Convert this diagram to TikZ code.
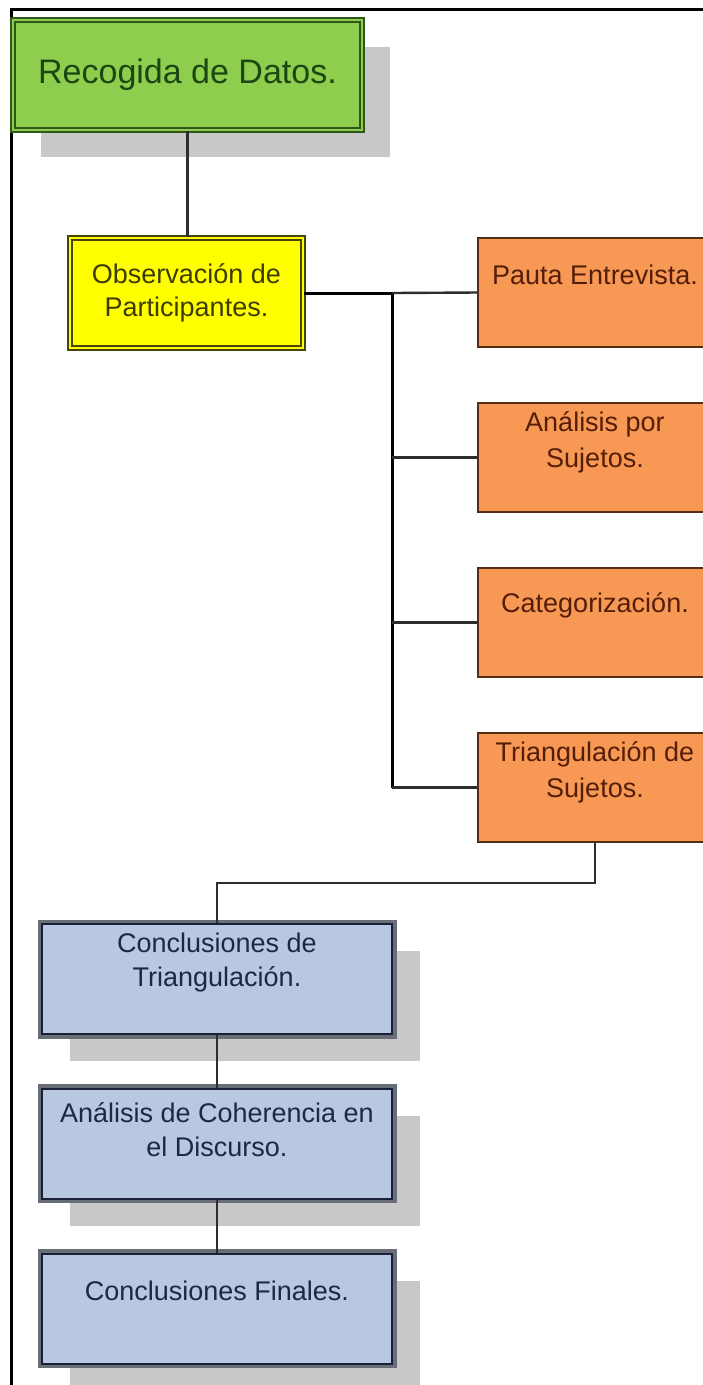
\documentclass[tikz,border=0pt]{standalone}
\usepackage{fontspec}
\setmainfont{Liberation Sans}
\usetikzlibrary{shadows,calc}

\definecolor{verdeFondo}{RGB}{142,206,78}
\definecolor{verdeBorde}{RGB}{50,85,25}
\definecolor{verdeTexto}{RGB}{28,70,18}
\definecolor{amarilloFondo}{RGB}{255,255,0}
\definecolor{amarilloBorde}{RGB}{70,70,10}
\definecolor{amarilloTexto}{RGB}{60,60,0}
\definecolor{naranjaFondo}{RGB}{247,152,84}
\definecolor{naranjaBorde}{RGB}{85,45,20}
\definecolor{naranjaTexto}{RGB}{85,30,8}
\definecolor{azulFondo}{RGB}{184,200,224}
\definecolor{azulBorde}{RGB}{105,110,118}
\definecolor{azulOscuro}{RGB}{25,32,55}
\definecolor{azulTexto}{RGB}{30,40,70}
\definecolor{sombra}{RGB}{200,200,200}
\definecolor{conector}{RGB}{45,45,45}

\begin{document}
\begin{tikzpicture}[x=1pt,y=-1pt,
    caja/.style={rectangle, inner sep=0pt, align=center},
    sombreado/.style={drop shadow={shadow xshift=28pt, shadow yshift=-27pt, fill=sombra, opacity=1}},
    cajaverde/.style={caja, sombreado, minimum width=349pt, minimum height=110pt,
        fill=verdeFondo, draw=verdeBorde, line width=1.8pt, double=verdeFondo, double distance=2.6pt,
        text=verdeTexto, font=\fontsize{34}{40}\selectfont},
    cajaamarilla/.style={caja, minimum width=233pt, minimum height=110pt,
        fill=amarilloFondo, draw=amarilloBorde, line width=1.7pt, double=amarilloFondo, double distance=2.4pt,
        text=amarilloTexto, font=\fontsize{27}{33}\selectfont},
    cajanaranja/.style={caja, minimum width=234pt, minimum height=109pt,
        fill=naranjaFondo, draw=naranjaBorde, line width=1.6pt},
    textonaranja/.style={inner sep=0pt, align=center, text=naranjaTexto, font=\fontsize{27}{36}\selectfont},
    cajaazul/.style={caja, sombreado, minimum width=350pt, minimum height=110pt,
        preaction={draw=azulBorde, line width=9pt},
        fill=azulFondo, draw=azulOscuro, line width=2pt},
    textoazul/.style={inner sep=0pt, align=center, text=azulTexto, font=\fontsize{27}{34}\selectfont},
    linea/.style={draw=conector, line width=2.4pt},
    tronco/.style={draw=black, line width=3pt},
    marco/.style={draw=black, line width=3pt}]

  \useasboundingbox (0,0) rectangle (703,1385);
  \clip (0,0) rectangle (703,1385);

  % marco exterior
  \draw[marco] (11,1385) -- (11,9) -- (703,9);

  % cajas superiores
  \node[cajaverde] (recogida) at (187.5,75) {Recogida de Datos.};
  \node[cajaamarilla] (observacion) at (186.5,293) {Observación de\\Participantes.};

  % cajas naranjas
  \node[cajanaranja] (pauta) at (595,292.5) {};
  \node[cajanaranja] (sujetos) at (595,457.5) {};
  \node[cajanaranja] (categorizacion) at (595,622.5) {};
  \node[cajanaranja] (triangulacion) at (595,787.5) {};
  \node[textonaranja] (pauta-txt) at ([yshift=-38pt]pauta.north) {Pauta Entrevista.};
  \node[textonaranja] (sujetos-txt) at ([yshift=-40pt]sujetos.north) {Análisis por\\Sujetos.};
  \node[textonaranja] (categorizacion-txt) at ([yshift=-38pt]categorizacion.north) {Categorización.};
  \node[textonaranja] (triangulacion-txt) at ([yshift=-40pt]triangulacion.north) {Triangulación de\\Sujetos.};

  % cajas azules
  \node[cajaazul] (conclusiones) at (217,979) {};
  \node[cajaazul] (coherencia) at (217,1143.5) {};
  \node[cajaazul] (finales) at (217,1308.5) {};
  \node[textoazul] (conclusiones-txt) at ([yshift=-40pt]conclusiones.north) {Conclusiones de\\Triangulación.};
  \node[textoazul] (coherencia-txt) at ([yshift=-42pt]coherencia.north) {Análisis de Coherencia en\\el Discurso.};
  \node[textoazul] (finales-txt) at ([yshift=-38pt]finales.north) {Conclusiones Finales.};

  % conectores
  \coordinate (eje) at (392,293);
  \draw[linea] (recogida.south) -- (recogida.south |- observacion.north);
  \draw[tronco] (observacion.east) -- (eje) -- (eje |- triangulacion.west);
  \draw[linea] (eje) -- (pauta.west);
  \draw[linea] (eje |- sujetos.west) -- (sujetos.west);
  \draw[linea] (eje |- categorizacion.west) -- (categorizacion.west);
  \draw[linea] (eje |- triangulacion.west) -- (triangulacion.west);
  \draw[linea] (triangulacion.south) -- ++(0,40) -| (conclusiones.north);
  \draw[linea] (conclusiones.south) -- (coherencia.north);
  \draw[linea] (coherencia.south) -- (finales.north);

\end{tikzpicture}
\end{document}
